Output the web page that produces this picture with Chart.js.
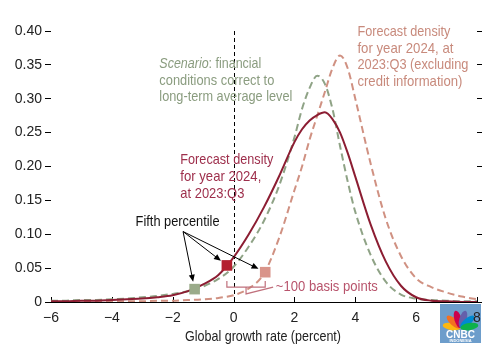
<!DOCTYPE html>
<html><head><meta charset="utf-8">
<script src="https://cdn.jsdelivr.net/npm/chart.js@4.4.0/dist/chart.umd.min.js"></script>
<style>html,body{margin:0;padding:0;background:#fff;}#wrap{width:500px;height:359px;}</style>
</head><body><div id="wrap"><canvas id="c" width="500" height="359"></canvas></div>
<script>
// ---- data ----
const growthRate = [-6,-5.5,-5,-4.5,-4,-3.5,-3,-2.5,-2,-1.5,-1,-0.5,0,0.5,1,1.5,2,2.25,2.5,2.75,3,3.25,3.5,3.75,4,4.5,5,5.5,6,6.5,7,7.5,8];
const forecast2023Q3 = [0.001,0.001,0.002,0.002,0.003,0.004,0.005,0.007,0.010,0.016,0.026,0.040,0.066,0.100,0.140,0.186,0.236,0.255,0.268,0.276,0.280,0.270,0.250,0.220,0.185,0.115,0.060,0.024,0.007,0.002,0.001,0.000,0.000];
const scenarioFinCond = [0.002,0.002,0.003,0.003,0.004,0.005,0.007,0.009,0.012,0.016,0.023,0.034,0.052,0.082,0.120,0.172,0.243,0.285,0.316,0.334,0.322,0.285,0.230,0.178,0.133,0.070,0.030,0.011,0.005,0.003,0.002,0.001,0.001];
const forecastExclCredit = [0.000,0.000,0.001,0.001,0.001,0.001,0.001,0.002,0.002,0.003,0.004,0.006,0.010,0.020,0.042,0.095,0.165,0.200,0.240,0.275,0.310,0.345,0.364,0.345,0.300,0.205,0.123,0.068,0.035,0.022,0.014,0.008,0.004];
// fifth percentiles: forecast, scenario, excl. credit
const fifthX = [-0.22, -1.28, 1.04];
const fifthY = [0.054, 0.019, 0.044];
const xTicks = [-6,-4,-2,0,2,4,6,8];
const yTicks = [0,0.05,0.10,0.15,0.20,0.25,0.30,0.35,0.40];
const xTitle = 'Global growth rate (percent)';

const FONT = "'Liberation Sans Narrow','Liberation Sans',Arial,sans-serif";
Chart.defaults.font.family = FONT;

const RED = '#8c1d32', GREEN = '#8fa386', SALMON = '#d09182';
const toPts = arr => growthRate.map((x,i)=>({x, y:arr[i]}));

function arrow(ctx, x0, y0, x1, y1){
  const dx=x1-x0, dy=y1-y0, L=Math.hypot(dx,dy), ux=dx/L, uy=dy/L;
  const hl=7, hw=3;
  ctx.beginPath(); ctx.moveTo(x0,y0); ctx.lineTo(x1-ux*hl*0.8,y1-uy*hl*0.8); ctx.stroke();
  ctx.beginPath(); ctx.moveTo(x1,y1);
  ctx.lineTo(x1-ux*hl-uy*hw, y1-uy*hl+ux*hw);
  ctx.lineTo(x1-ux*hl+uy*hw, y1-uy*hl-ux*hw);
  ctx.closePath(); ctx.fill();
}

const annot = {
  id:'annot',
  beforeDraw(chart){
    const ctx=chart.ctx;
    ctx.save();
    ctx.fillStyle='#fff'; ctx.fillRect(0,0,chart.width,chart.height);
    // watermark logo
    const lx=440, ly=304, lw=41, lh=39;
    ctx.fillStyle='#6d9dcb'; ctx.fillRect(lx,ly,lw,lh);
    const cols=['#fcb711','#f37021','#cc004c','#6460aa','#0089d0','#0db14b'];
    const bx=lx+lw/2, by=ly+24;
    cols.forEach((c,i)=>{
      const a = Math.PI*(-0.95 + i*0.18) ;
      ctx.save(); ctx.translate(bx,by); ctx.rotate(a+Math.PI/2);
      ctx.fillStyle=c; ctx.beginPath(); ctx.ellipse(0,-9,3.6,9,0,0,Math.PI*2); ctx.fill();
      ctx.restore();
    });
    ctx.fillStyle='#fff'; ctx.font="bold 10px 'Liberation Sans',Arial,sans-serif";
    ctx.textAlign='center'; ctx.textBaseline='alphabetic';
    ctx.fillText('CNBC', bx, ly+34);
    ctx.font="bold 4px 'Liberation Sans',Arial,sans-serif";
    ctx.fillText('INDONESIA', bx, ly+38);
    ctx.restore();
  },
  beforeDatasetsDraw(chart){
    const {ctx, scales:{x,y}} = chart;
    ctx.save();
    ctx.strokeStyle='#000'; ctx.lineWidth=1; ctx.setLineDash([4,3]);
    const px=Math.round(x.getPixelForValue(0))+0.5;
    ctx.beginPath(); ctx.moveTo(px,y.getPixelForValue(0.4)); ctx.lineTo(px,y.getPixelForValue(0)); ctx.stroke();
    ctx.setLineDash([]);
    // inward x tick marks
    xTicks.forEach(v=>{
      const tx=Math.round(x.getPixelForValue(v))+0.5, b=y.getPixelForValue(0);
      ctx.beginPath(); ctx.moveTo(tx,b); ctx.lineTo(tx,b-5); ctx.stroke();
    });
    // axis title
    ctx.fillStyle='#222'; ctx.font="15px "+FONT; ctx.textAlign='center'; ctx.textBaseline='alphabetic';
    ctx.fillText(xTitle, (x.left+x.right)/2 - 1, 341, 156);
    ctx.restore();
  },
  afterDatasetsDraw(chart){
    const {ctx, scales:{x,y}} = chart;
    const X=v=>x.getPixelForValue(v), Y=v=>y.getPixelForValue(v);
    ctx.save();
    ctx.textAlign='left'; ctx.textBaseline='alphabetic';
    const F="15px "+FONT;
    // scenario text
    ctx.fillStyle='#8a9c7f';
    const sx=X(-2.44);
    ctx.font="italic "+F; const w1=ctx.measureText('Scenario').width;
    ctx.font=F; const w2=ctx.measureText(': financial').width;
    const s=Math.min(1, 102/(w1+w2));
    ctx.font="italic "+F;
    ctx.fillText('Scenario', sx, Y(0.346), w1*s);
    ctx.font=F;
    ctx.fillText(': financial', sx+w1*s, Y(0.346), w2*s);
    ctx.fillText('conditions correct to', sx, Y(0.321), 115);
    ctx.fillText('long-term average level', sx, Y(0.296), 133);
    // excl credit text
    ctx.fillStyle='#c88a7c';
    const ex=X(4.07);
    ctx.fillText('Forecast density', ex, Y(0.3926), 93);
    ctx.fillText('for year 2024, at', ex, Y(0.3675), 96);
    ctx.fillText('2023:Q3 (excluding', ex, Y(0.3432), 111);
    ctx.fillText('credit information)', ex, Y(0.3188), 105);
    // forecast text
    ctx.fillStyle='#9e2f4c';
    const fx=X(-1.75);
    ctx.fillText('Forecast density', fx, Y(0.2037), 93);
    ctx.fillText('for year 2024,', fx, Y(0.1786), 81);
    ctx.fillText('at 2023:Q3', fx, Y(0.1535), 64);
    // fifth percentile
    ctx.fillStyle='#111';
    ctx.fillText('Fifth percentile', X(-3.22), Y(0.1122), 84);
    // arrows
    ctx.strokeStyle='#000'; ctx.fillStyle='#000'; ctx.lineWidth=1;
    const sx0=X(-1.66), sy0=Y(0.104);
    for(let i=0;i<3;i++){
      const cx=X(fifthX[i]), cy=Y(fifthY[i]);
      const dx=cx-sx0, dy=cy-sy0, L=Math.hypot(dx,dy);
      arrow(ctx, sx0, sy0, cx-dx/L*7.5, cy-dy/L*7.5);
    }
    // bracket
    ctx.strokeStyle='#c0707c'; ctx.lineWidth=1.2;
    const bl=X(fifthX[0]), br=X(fifthX[2]), bt=Y(0.031), bb=Y(0.022), bm=(bl+br)/2;
    ctx.beginPath(); ctx.moveTo(bl,bt); ctx.lineTo(bl,bb); ctx.lineTo(br,bb); ctx.lineTo(br,bt); ctx.stroke();
    ctx.beginPath(); ctx.moveTo(bm,bb); ctx.lineTo(bm,Y(0.012)); ctx.lineTo(X(1.3),Y(0.022)); ctx.stroke();
    ctx.fillStyle='#b8546c';
    ctx.fillText('~100 basis points', X(1.39), Y(0.0162), 102);
    ctx.restore();
  }
};

new Chart(document.getElementById('c'), {
  type:'line',
  data:{datasets:[
    {label:'Forecast 2023:Q3', data:toPts(forecast2023Q3), borderColor:RED, borderWidth:2, pointRadius:0, cubicInterpolationMode:'monotone', fill:false, order:1},
    {label:'Scenario', data:toPts(scenarioFinCond), borderColor:GREEN, borderWidth:2, borderDash:[7,4], pointRadius:0, cubicInterpolationMode:'monotone', fill:false, order:3},
    {label:'Excl. credit', data:toPts(forecastExclCredit), borderColor:SALMON, borderWidth:2, borderDash:[7,4], pointRadius:0, cubicInterpolationMode:'monotone', fill:false, order:2},
    {type:'scatter', label:'p5', data:fifthX.map((v,i)=>({x:v,y:fifthY[i]})), pointStyle:'rect', pointRadius:7.5, borderWidth:0,
     backgroundColor:['#b3202f','#9aab8a','#d9948a'], order:0}
  ]},
  options:{
    responsive:false, animation:false,
    layout:{padding:{top:31,left:0,right:0,bottom:0}},
    plugins:{legend:{display:false}, tooltip:{enabled:false}},
    scales:{
      x:{type:'linear', min:-6, max:8, position:'bottom',
        afterBuildTicks:s=>{s.ticks=xTicks.map(v=>({value:v}));},
        afterFit:s=>{s.height=57;},
        ticks:{font:{size:14}, color:'#222', padding:8, maxRotation:0, autoSkip:false,
          callback:v=> v<0 ? '\u2212'+Math.abs(v) : String(v)},
        grid:{drawOnChartArea:false, drawTicks:false},
        border:{display:true, color:'#000', width:1},
        title:{display:false}
      },
      y:{type:'linear', min:0, max:0.4, position:'left',
        afterBuildTicks:s=>{s.ticks=yTicks.map(v=>({value:v}));},
        afterFit:s=>{s.width=51;},
        ticks:{font:{size:14}, color:'#222', padding:3, callback:v=> v===0 ? '0' : v.toFixed(2)},
        grid:{drawOnChartArea:false, drawTicks:true, tickLength:6, color:'#000'},
        border:{display:false}
      },
      y2:{type:'linear', min:0, max:0.4, position:'right',
        afterBuildTicks:s=>{s.ticks=yTicks.map(v=>({value:v}));},
        afterFit:s=>{s.width=23;},
        ticks:{color:'rgba(0,0,0,0)', padding:0, callback:()=> ' '},
        grid:{drawOnChartArea:false, drawTicks:true, tickLength:5, color:'#000'},
        border:{display:false}
      }
    }
  },
  plugins:[annot]
});
</script></body></html>
